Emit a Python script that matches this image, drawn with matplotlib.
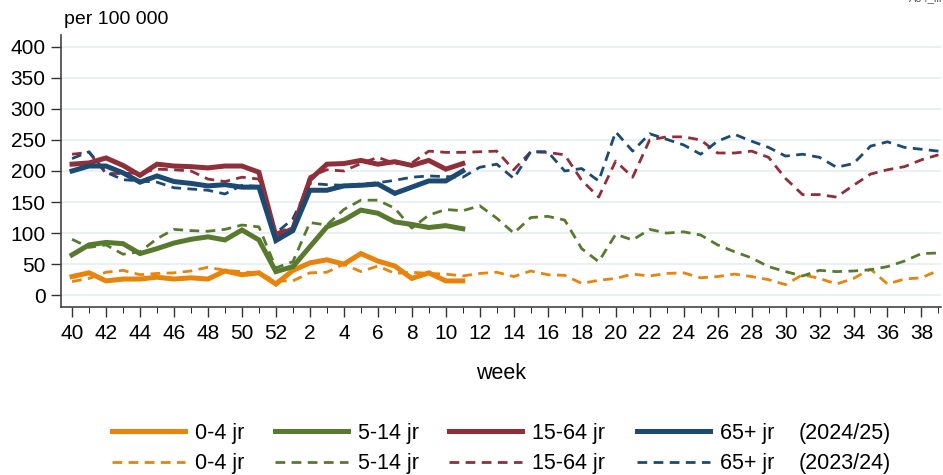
import matplotlib
matplotlib.use('Agg')
import matplotlib.pyplot as plt
from matplotlib.lines import Line2D

plt.rcParams['font.family'] = ['Liberation Sans', 'DejaVu Sans']

# weken van het seizoen (week 40 t/m week 39)
weeks = [40, 41, 42, 43, 44, 45, 46, 47, 48, 49, 50, 51, 52,
         1, 2, 3, 4, 5, 6, 7, 8, 9, 10, 11, 12, 13, 14, 15, 16, 17, 18, 19,
         20, 21, 22, 23, 24, 25, 26, 27, 28, 29, 30, 31, 32, 33, 34, 35, 36, 37, 38, 39]

age_groups = ['0-4 jr', '5-14 jr', '15-64 jr', '65+ jr']
colors = ['#e8830c', '#587a2e', '#8f2f39', '#1d4a73']

# seizoen 2024/25 (t/m week 11)
cur_0_4 = [30, 36, 23, 26, 26, 29, 26, 28, 26, 39, 33, 36, 18, 40, 52, 57, 50, 67, 55, 47, 27, 36, 23, 23]
cur_5_14 = [65, 81, 85, 83, 67, 75, 84, 90, 94, 89, 105, 89, 38, 46, 78, 110, 121, 137, 132, 118, 114, 109, 112, 107]
cur_15_64 = [211, 213, 221, 209, 193, 211, 208, 207, 205, 208, 208, 198, 95, 107, 186, 211, 212, 217, 211, 215, 209, 217, 203, 212]
cur_65 = [200, 208, 208, 197, 182, 192, 183, 180, 176, 178, 174, 174, 88, 104, 169, 169, 176, 177, 179, 164, 174, 184, 184, 200]

# seizoen 2023/24
prev_0_4 = [22, 27, 37, 40, 33, 35, 36, 39, 45, 40, 38, 35, 23, 23, 36, 37, 50, 38, 47, 35, 37, 35, 34, 31,
            35, 37, 30, 39, 33, 32, 19, 24, 27, 34, 31, 35, 36, 28, 30, 34, 30, 25, 17, 33, 27, 18, 27, 42,
            18, 26, 28, 40]
prev_5_14 = [90, 77, 81, 66, 70, 91, 106, 104, 103, 106, 113, 110, 44, 54, 117, 113, 138, 153, 153, 140, 108, 129, 138, 136,
             144, 124, 100, 125, 127, 121, 75, 54, 98, 89, 106, 100, 102, 97, 81, 70, 60, 46, 38, 31, 40, 38, 39, 41,
             46, 55, 67, 68]
prev_15_64 = [227, 230, 196, 196, 197, 203, 202, 200, 187, 183, 190, 187, 100, 110, 191, 202, 200, 212, 222, 212, 213, 232, 230, 230,
              231, 232, 202, 231, 230, 226, 185, 158, 216, 190, 250, 255, 255, 250, 229, 229, 232, 222, 188, 162, 162, 158, 177, 195,
              202, 207, 218, 226]
prev_65 = [220, 231, 198, 186, 184, 182, 173, 171, 169, 163, 177, 175, 100, 123, 180, 178, 177, 179, 181, 185, 190, 192, 191, 190,
           206, 211, 188, 231, 231, 200, 204, 184, 263, 232, 260, 251, 242, 227, 248, 259, 248, 238, 224, 227, 222, 206, 212, 240,
           247, 238, 235, 232]

cur_series = [cur_0_4, cur_5_14, cur_15_64, cur_65]
prev_series = [prev_0_4, prev_5_14, prev_15_64, prev_65]

fig = plt.figure(figsize=(9.43, 4.75), dpi=100)
ax = fig.add_axes([61 / 943, 1 - 307 / 475, 880 / 943, 272 / 475])

solid_lw = 3.6
dash_lw = 2.0
dash_style = (0, (3.5, 2.3))

for vals, c in zip(prev_series, colors):
    ax.plot(range(len(vals)), vals, color=c, lw=dash_lw, ls=dash_style, zorder=2)
for vals, c in zip(cur_series, colors):
    ax.plot(range(len(vals)), vals, color=c, lw=solid_lw, zorder=3, solid_joinstyle='miter')

ax.set_xlim(-0.65, 51.15)
ax.set_ylim(-19, 419)

ax.set_yticks(range(0, 401, 50))
ax.grid(axis='y', color='#e6eff1', lw=1.3, zorder=0)
ax.set_axisbelow(True)

major = [i for i, w in enumerate(weeks) if w % 2 == 0]
minor = [i for i, w in enumerate(weeks) if w % 2 == 1]
ax.set_xticks(major)
ax.set_xticklabels([str(weeks[i]) for i in major])
ax.set_xticks(minor, minor=True)

ax.tick_params(axis='both', labelsize=15, color='#333333', width=1.0)
ax.tick_params(axis='y', length=7, pad=4)
ax.tick_params(axis='x', which='major', length=7, pad=5)
ax.tick_params(axis='x', which='minor', length=4)

for s in ['top', 'right']:
    ax.spines[s].set_visible(False)
for s in ['left', 'bottom']:
    ax.spines[s].set_color('#444444')
    ax.spines[s].set_linewidth(1.2)

ax.set_xlabel('week', fontsize=15.5, labelpad=15)

fig.text(64 / 943, 1 - 20 / 475, 'per 100 000', fontsize=14, va='center', ha='left')
fig.text(0.999, 1.003, 'A04_ili', fontsize=8, ha='right', va='center', color='#555555')

# legenda: per leeftijdsgroep een kolom met 2024/25 (doorgetrokken) en 2023/24 (gestippeld)
col_x = [112, 275, 449, 637]
for lab, c, x in zip(age_groups, colors, col_x):
    handles = [Line2D([], [], color=c, lw=solid_lw),
               Line2D([], [], color=c, lw=dash_lw, ls=dash_style)]
    fig.legend(handles, [lab, lab], loc='center left', bbox_to_anchor=(x / 943, 1 - 448.5 / 475),
               frameon=False, fontsize=15.5, handlelength=3.4, handletextpad=0.45,
               labelspacing=0.45, borderpad=0, borderaxespad=0)

fig.text(799 / 943, 1 - 434 / 475, '(2024/25)', fontsize=15.5, va='center', ha='left')
fig.text(799 / 943, 1 - 463 / 475, '(2023/24)', fontsize=15.5, va='center', ha='left')

fig.savefig('out.png', dpi=100)
